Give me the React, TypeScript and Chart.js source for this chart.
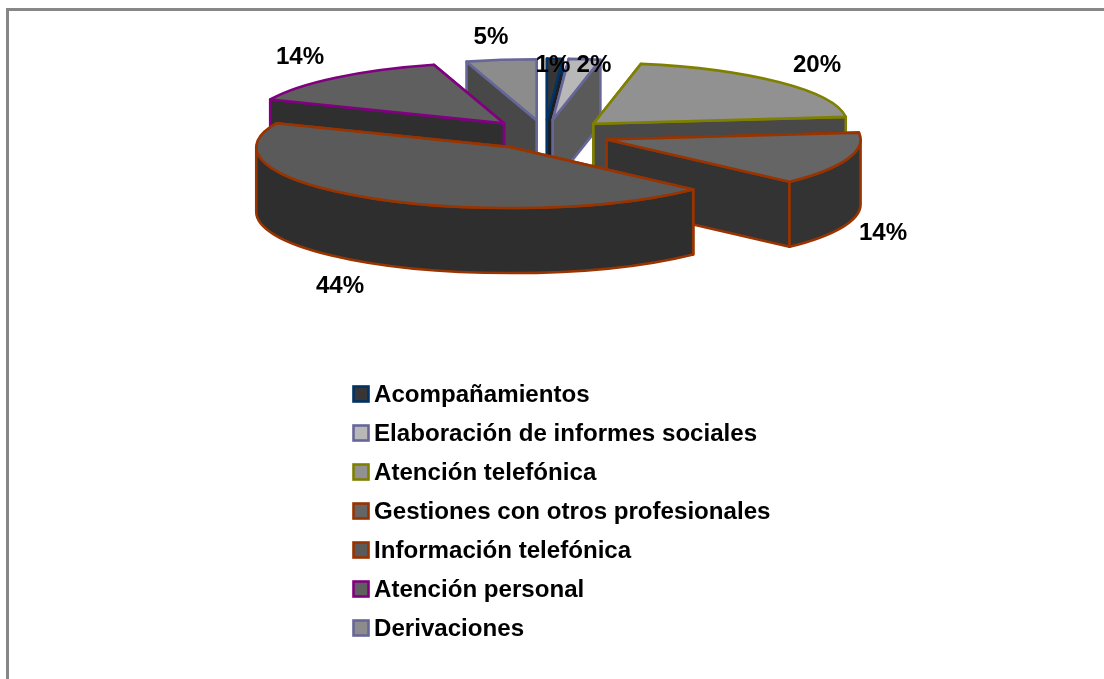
import React, { useEffect, useRef } from "react";
import { Chart, registerables } from "chart.js";

Chart.register(...registerables);

const categories = [
  "Acompañamientos",
  "Elaboración de informes sociales",
  "Atención telefónica",
  "Gestiones con otros profesionales",
  "Información telefónica",
  "Atención personal",
  "Derivaciones",
];
const values = [1.0, 2.0, 20.2, 14.0, 44.2, 14.15, 4.45];
const percentLabels = ["1%", "2%", "20%", "14%", "44%", "14%", "5%"];
const explode = [62, 62, 66, 65, 63, 62, 60];
const topColors = ["#363636", "#b8b8b8", "#919191", "#656565", "#5a5a5a", "#5f5f5f", "#8c8c8c"];
const wallColors = ["#1e1e1e", "#5a5a5a", "#484848", "#333333", "#2e2e2e", "#2f2f2f", "#484848"];
const borderColors = ["#003366", "#666699", "#808000", "#993300", "#993300", "#800080", "#666699"];
const paintOrder = [6, 5, 0, 1, 2, 3, 4];

const SQUISH = 0.24;
const DEPTH = 65;
const RADIUS = 254;
const FONT = "bold 23px 'Liberation Sans', Arial, sans-serif";
const TEXT_STRETCH = 1.048;
const TEXT_COLOR = "#000000";
const labelSpots = [
  [553, 65.5],
  [594, 65.5],
  [817, 65.5],
  [883, 233.5],
  [340, 286.5],
  [300, 57.5],
  [491, 37.5],
];
const legendLeft = 353.5;
const legendTop = 386.5;
const legendStep = 39;
const legendBox = 15;
const legendTextX = 374;

function wideText(ctx: CanvasRenderingContext2D, text: string, x: number, y: number) {
  ctx.save();
  ctx.translate(x, y);
  ctx.scale(TEXT_STRETCH, 1);
  ctx.fillText(text, 0, 0);
  ctx.restore();
}

function drawSlice(ctx: CanvasRenderingContext2D, arc: any, i: number) {
  const a0 = arc.startAngle;
  const a1 = arc.endAngle;
  const mid = (a0 + a1) / 2;
  const off = arc.options.offset || 0;
  const R = arc.outerRadius;
  const ry = R * SQUISH;
  const ox = arc.x + Math.cos(mid) * off;
  const oy = arc.y + Math.sin(mid) * off * SQUISH;
  ctx.lineJoin = "round";
  ctx.lineWidth = arc.options.borderWidth;
  ctx.strokeStyle = arc.options.borderColor;

  const faces = [a0, a1].sort((p, q) => Math.sin(p) - Math.sin(q));
  ctx.fillStyle = wallColors[i];
  for (const a of faces) {
    const rx = ox + R * Math.cos(a);
    const rimY = oy + ry * Math.sin(a);
    ctx.beginPath();
    ctx.moveTo(ox, oy);
    ctx.lineTo(rx, rimY);
    ctx.lineTo(rx, rimY + DEPTH);
    ctx.lineTo(ox, oy + DEPTH);
    ctx.closePath();
    ctx.fill();
    ctx.stroke();
  }

  const norm = (v: number) => {
    const t = Math.PI * 2;
    return ((v % t) + t) % t;
  };
  let s = norm(a0);
  const span = a1 - a0;
  let e = s + span;
  if (s > Math.PI && e > Math.PI * 2) {
    s = s - Math.PI * 2;
    e = e - Math.PI * 2;
  }
  const fs = Math.max(s, 0);
  const fe = Math.min(e, Math.PI);
  if (fe > fs) {
    ctx.beginPath();
    ctx.ellipse(ox, oy, R, ry, 0, fs, fe);
    ctx.lineTo(ox + R * Math.cos(fe), oy + ry * Math.sin(fe) + DEPTH);
    ctx.ellipse(ox, oy + DEPTH, R, ry, 0, fe, fs, true);
    ctx.closePath();
    ctx.fill();
    ctx.stroke();
  }

  ctx.fillStyle = arc.options.backgroundColor;
  ctx.beginPath();
  ctx.moveTo(ox, oy);
  ctx.ellipse(ox, oy, R, ry, 0, a0, a1);
  ctx.closePath();
  ctx.fill();
  ctx.stroke();
}

const pie3d = {
  id: "pie3d",
  beforeDatasetDraw(chart: any, args: any) {
    const ctx = chart.ctx;
    const meta = chart.getDatasetMeta(args.index);
    ctx.save();
    for (const i of paintOrder) drawSlice(ctx, meta.data[i], i);
    ctx.restore();
    return false;
  },
  afterDraw(chart: any) {
    const ctx = chart.ctx;
    ctx.save();
    ctx.font = FONT;
    ctx.fillStyle = TEXT_COLOR;
    ctx.textBaseline = "middle";
    ctx.textAlign = "center";
    percentLabels.forEach((t, i) => {
      wideText(ctx, t, labelSpots[i][0], labelSpots[i][1]);
    });
    ctx.textAlign = "left";
    chart.data.labels.forEach((name: string, i: number) => {
      const y = legendTop + i * legendStep;
      ctx.fillStyle = topColors[i];
      ctx.strokeStyle = borderColors[i];
      ctx.lineWidth = 2.6;
      ctx.fillRect(legendLeft, y, legendBox, legendBox);
      ctx.strokeRect(legendLeft, y, legendBox, legendBox);
      ctx.fillStyle = TEXT_COLOR;
      wideText(ctx, name, legendTextX, y + legendBox / 2 + 2);
    });
    ctx.restore();
  },
};

export default function App() {
  const ref = useRef<HTMLCanvasElement>(null);
  useEffect(() => {
    const chart = new Chart(ref.current as HTMLCanvasElement, {
      type: "pie",
      data: {
        labels: categories,
        datasets: [
          {
            data: values,
            backgroundColor: topColors,
            borderColor: borderColors,
            borderWidth: 2.6,
            offset: explode,
          },
        ],
      },
      options: {
        responsive: false,
        animation: false,
        radius: RADIUS,
        layout: { padding: { left: 0, right: 14, top: 0, bottom: 410 } },
        plugins: { legend: { display: false }, tooltip: { enabled: false } },
      },
      plugins: [pie3d],
    } as any);
    return () => chart.destroy();
  }, []);
  return (
    <div style={{ position: "absolute", left: 0, top: 0, width: 1104, height: 679, background: "#fff", overflow: "hidden" }}>
      <div
        style={{
          position: "absolute",
          left: 6,
          top: 8,
          width: 1200,
          height: 800,
          boxSizing: "border-box",
          border: "3px solid #878787",
        }}
      />
      <canvas ref={ref} width={1104} height={679} style={{ position: "absolute", left: 0, top: 0, display: "block" }} />
    </div>
  );
}
